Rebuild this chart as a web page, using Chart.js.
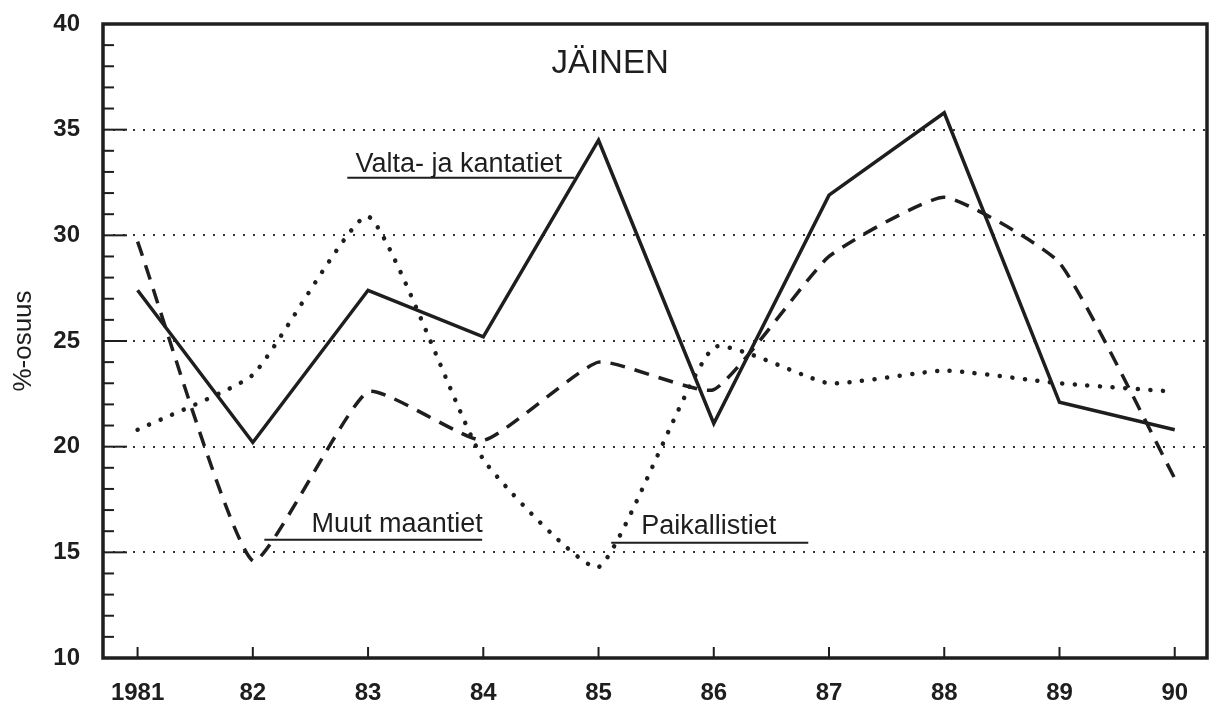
<!DOCTYPE html>
<html>
<head>
<meta charset="utf-8">
<script src="https://cdn.jsdelivr.net/npm/chart.js@4.4.0/dist/chart.umd.min.js"></script>
<style>
  html, body { margin: 0; padding: 0; background: #fff; }
  #wrap { width: 1214px; height: 711px; position: relative; }
</style>
</head>
<body>
<div id="wrap"><canvas id="chart" width="1214" height="711"></canvas></div>
<script>
// years on the x axis and their printed labels
const years = [1981, 1982, 1983, 1984, 1985, 1986, 1987, 1988, 1989, 1990];
const yearLabels = ["1981", "82", "83", "84", "85", "86", "87", "88", "89", "90"];

// share (%) of icy road accidents by road class
const valtaKantatiet = [27.4, 20.2, 27.4, 25.2, 34.5, 21.1, 31.9, 35.8, 22.1, 20.8];
const muutMaantiet = [29.7, 14.6, 22.6, 20.3, 24.0, 22.7, 29.0, 31.8, 28.7, 18.5];
const paikallistiet = [20.8, 23.4, 30.9, 19.4, 14.3, 24.7, 23.0, 23.6, 23.0, 22.6];

const yTickValues = [10, 15, 20, 25, 30, 35, 40];

const ink = "#1e1e1e";
const font = "'Liberation Sans', Arial, sans-serif";

function points(values) {
  return years.map((y, i) => ({ x: y, y: values[i] }));
}

// series labels with their underline, in data units
const seriesNotes = [
  { text: "Valta- ja kantatiet", x: 1982.89, y: 33.0, lineFrom: 1982.82, lineTo: 1984.79, lineY: 32.72 },
  { text: "Muut maantiet", x: 1982.51, y: 15.98, lineFrom: 1982.1, lineTo: 1983.99, lineY: 15.6 },
  { text: "Paikallistiet", x: 1985.37, y: 15.85, lineFrom: 1985.11, lineTo: 1986.82, lineY: 15.45 }
];

// frame, inward ticks, title and series labels
const decorations = {
  id: "decorations",
  afterDatasetsDraw(chart) {
    const { ctx, chartArea: a, scales } = chart;
    const xs = scales.x, ys = scales.y;
    ctx.save();
    ctx.strokeStyle = ink;
    ctx.lineCap = "butt";

    // minor and major ticks on the y axis
    ctx.lineWidth = 2;
    for (let v = 10; v <= 40; v++) {
      const py = ys.getPixelForValue(v);
      const len = v % 5 === 0 ? 24 : 11;
      ctx.beginPath();
      ctx.moveTo(a.left, py);
      ctx.lineTo(a.left + len, py);
      ctx.stroke();
    }
    // ticks on the x axis
    years.forEach(yr => {
      const px = xs.getPixelForValue(yr);
      ctx.beginPath();
      ctx.moveTo(px, a.bottom);
      ctx.lineTo(px, a.bottom - 11);
      ctx.stroke();
    });

    // frame
    ctx.lineWidth = 3.5;
    ctx.strokeRect(a.left, a.top, a.right - a.left, a.bottom - a.top);

    // title
    ctx.fillStyle = ink;
    ctx.font = "33px " + font;
    ctx.textAlign = "center";
    ctx.textBaseline = "alphabetic";
    ctx.fillText("JÄINEN", xs.getPixelForValue(1985.1), ys.getPixelForValue(37.7));

    // series labels
    ctx.font = "27px " + font;
    ctx.textAlign = "left";
    ctx.lineWidth = 2;
    seriesNotes.forEach(n => {
      ctx.fillText(n.text, xs.getPixelForValue(n.x), ys.getPixelForValue(n.y));
      const ly = ys.getPixelForValue(n.lineY);
      ctx.beginPath();
      ctx.moveTo(xs.getPixelForValue(n.lineFrom), ly);
      ctx.lineTo(xs.getPixelForValue(n.lineTo), ly);
      ctx.stroke();
    });
    ctx.restore();
  }
};

new Chart(document.getElementById("chart"), {
  type: "line",
  data: {
    datasets: [
      {
        label: "Valta- ja kantatiet",
        data: points(valtaKantatiet),
        borderColor: ink,
        borderWidth: 3.5,
        pointRadius: 0,
        tension: 0
      },
      {
        label: "Muut maantiet",
        data: points(muutMaantiet),
        borderColor: ink,
        borderWidth: 3.5,
        borderDash: [15, 10],
        pointRadius: 0,
        tension: 0.15
      },
      {
        label: "Paikallistiet",
        data: points(paikallistiet),
        borderColor: ink,
        borderWidth: 4.5,
        borderDash: [0.1, 12.5],
        borderCapStyle: "round",
        pointRadius: 0,
        tension: 0.15
      }
    ]
  },
  options: {
    responsive: false,
    animation: false,
    layout: { padding: { top: 24, right: 7, left: 0, bottom: 0 } },
    plugins: {
      legend: { display: false },
      tooltip: { enabled: false }
    },
    scales: {
      x: {
        type: "linear",
        min: 1980.7,
        max: 1990.28,
        grid: { display: false, drawTicks: false },
        border: { display: false },
        ticks: {
          stepSize: 1,
          includeBounds: false,
          autoSkip: false,
          maxRotation: 0,
          padding: 21,
          color: ink,
          font: { family: font, size: 24, weight: "bold" },
          callback: v => yearLabels[years.indexOf(v)]
        },
        afterFit: s => { s.height = 53; }
      },
      y: {
        min: 10,
        max: 40,
        afterBuildTicks: s => { s.ticks = yTickValues.map(v => ({ value: v })); },
        grid: {
          drawTicks: false,
          lineWidth: 2,
          color: c => (c.tick.value === 10 || c.tick.value === 40) ? "rgba(0,0,0,0)" : "#333"
        },
        border: { display: false, dash: [2, 8] },
        ticks: {
          padding: 23,
          color: ink,
          font: { family: font, size: 24, weight: "bold" }
        },
        title: {
          display: true,
          text: "%-osuus",
          color: ink,
          font: { family: font, size: 26 },
          padding: { top: 8, bottom: 0 }
        },
        afterFit: s => { s.width = 103; s.paddingTop = 0; s.paddingBottom = 0; }
      }
    }
  },
  plugins: [decorations]
});
</script>
</body>
</html>
